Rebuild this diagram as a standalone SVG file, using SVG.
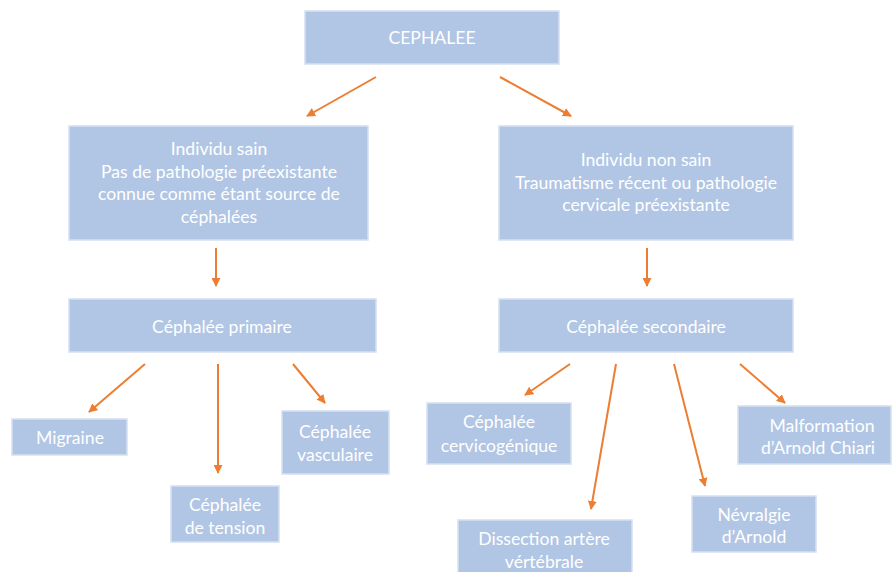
<svg xmlns="http://www.w3.org/2000/svg" width="893" height="572" viewBox="0 0 893 572">
<style>
.box{fill:#b1c6e4;stroke:#d5e0f1;stroke-width:1.5}
.t{font-family:Lato,"Open Sans","Liberation Sans",sans-serif;font-size:17.6px;fill:#ffffff;text-anchor:middle}
.c{stroke:#ed7d31;stroke-width:2;fill:none;marker-end:url(#ah)}
</style>
<defs>
<marker id="ah" viewBox="0 0 10 10" refX="9" refY="5" markerWidth="4.5" markerHeight="4.5" orient="auto" markerUnits="strokeWidth">
<path d="M0,0 L10,5 L0,10 Z" fill="#ed7d31"/>
</marker>
</defs>
<rect width="893" height="572" fill="#ffffff"/>
<g id="connectors">
<line class="c" x1="376" y1="77" x2="307" y2="116"/>
<line class="c" x1="500" y1="77" x2="571" y2="116"/>
<line class="c" x1="216" y1="248" x2="216" y2="286"/>
<line class="c" x1="647" y1="248" x2="647" y2="286"/>
<line class="c" x1="145" y1="364" x2="89" y2="412"/>
<line class="c" x1="218" y1="364" x2="218" y2="473"/>
<line class="c" x1="293" y1="364" x2="325" y2="403"/>
<line class="c" x1="570" y1="364" x2="525" y2="395"/>
<line class="c" x1="616" y1="364" x2="591" y2="509"/>
<line class="c" x1="674" y1="364" x2="705" y2="486"/>
<line class="c" x1="740" y1="364" x2="785" y2="403"/>
</g>
<g id="cephalee">
<rect class="box" x="305" y="11" width="254" height="53"/>
<text class="t" x="432" y="44">CEPHALEE</text>
</g>
<g id="sain">
<rect class="box" x="69" y="126" width="299" height="114"/>
<text class="t" x="219" y="155">Individu sain</text>
<text class="t" x="219" y="178">Pas de pathologie préexistante</text>
<text class="t" x="219" y="200">connue comme étant source de</text>
<text class="t" x="219" y="223">céphalées</text>
</g>
<g id="nonsain">
<rect class="box" x="499" y="126" width="294" height="114"/>
<text class="t" x="646" y="166">Individu non sain</text>
<text class="t" x="646" y="189">Traumatisme récent ou pathologie</text>
<text class="t" x="646" y="211">cervicale préexistante</text>
</g>
<g id="primaire">
<rect class="box" x="69" y="299" width="307" height="53"/>
<text class="t" x="222" y="333">Céphalée primaire</text>
</g>
<g id="secondaire">
<rect class="box" x="499" y="299" width="294" height="53"/>
<text class="t" x="646" y="333">Céphalée secondaire</text>
</g>
<g id="migraine">
<rect class="box" x="12" y="419" width="115" height="36"/>
<text class="t" x="70" y="444">Migraine</text>
</g>
<g id="tension">
<rect class="box" x="171" y="486" width="108" height="56"/>
<text class="t" x="225" y="511">Céphalée</text>
<text class="t" x="225" y="534">de tension</text>
</g>
<g id="vasculaire">
<rect class="box" x="282" y="411" width="107" height="63"/>
<text class="t" x="335" y="438">Céphalée</text>
<text class="t" x="335" y="461">vasculaire</text>
</g>
<g id="cervicogenique">
<rect class="box" x="427" y="403" width="144" height="61"/>
<text class="t" x="499" y="428">Céphalée</text>
<text class="t" x="499" y="452">cervicogénique</text>
</g>
<g id="dissection">
<rect class="box" x="458" y="520" width="174" height="60"/>
<text class="t" x="544" y="545">Dissection artère</text>
<text class="t" x="544" y="568">vértébrale</text>
</g>
<g id="nevralgie">
<rect class="box" x="692" y="496" width="124" height="56"/>
<text class="t" x="754" y="521">Névralgie</text>
<text class="t" x="754" y="543">d’Arnold</text>
</g>
<g id="malformation">
<rect class="box" x="738" y="406" width="153" height="58"/>
<text class="t" x="822" y="432">Malformation</text>
<text class="t" x="818" y="454">d’Arnold Chiari</text>
</g>
</svg>
